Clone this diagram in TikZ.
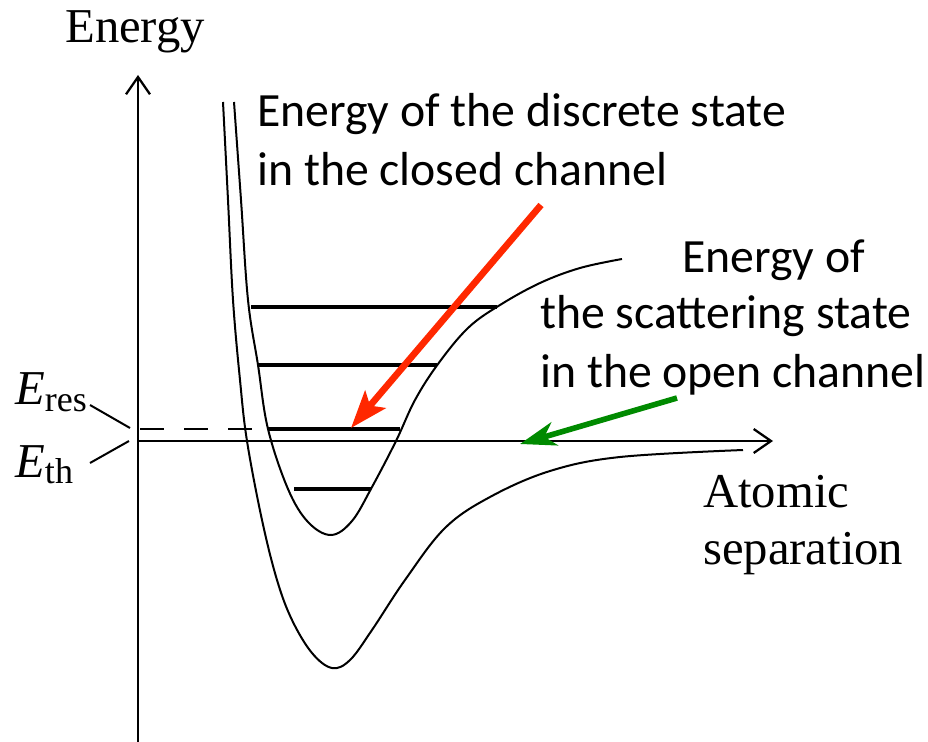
\documentclass[tikz,border=0pt]{standalone}
\usepackage{fontspec}
\setmainfont{Liberation Serif}
\newfontfamily\calib{Carlito}
\usetikzlibrary{arrows.meta}
\definecolor{myred}{RGB}{255,40,0}
\definecolor{mygreen}{RGB}{0,138,0}
\tikzset{
  axisline/.style={line width=1.7pt, -{Straight Barb[length=13pt,width=18pt]}},
  curve/.style={line width=1.5pt},
  level/.style={line width=3pt},
  serlabel/.style={anchor=base west, inner sep=0pt, font=\fontsize{36.5}{44}\selectfont},
  sanslabel/.style={anchor=base west, inner sep=0pt, font=\calib\fontsize{35.8}{43}\selectfont},
  redarrow/.style={draw=myred, line width=5pt, -{Stealth[length=28pt,width=20pt,inset=6pt]}},
  greenarrow/.style={draw=mygreen, line width=4.2pt, -{Stealth[length=27pt,width=18pt,inset=8pt]}},
}
\begin{document}
\begin{tikzpicture}[x=0.75pt,y=-0.75pt]
\useasboundingbox (0,0) rectangle (928,742);
% axes
\coordinate (origin) at (138,441);
\coordinate (ytop) at (138,75);
\coordinate (ybot) at (138,742);
\coordinate (xend) at (773,441);
\draw[axisline] (ybot) -- (ytop);
\draw[axisline] (origin) -- (xend);
% dashed resonance line
\coordinate (dashA) at (140,429);
\coordinate (dashB) at (266,429);
\draw[line width=1.8pt, dash pattern=on 18 off 15] (dashA) -- (dashB);
% open channel curve (outer)
\draw[curve] plot[smooth, tension=0.6] coordinates {(223,102) (228,200) (233,300) (240,380) (247,441) (262,520) (277,580) (292,620) (312,653) (332,668) (350,660) (372,630) (405,580) (445,528) (490,497) (550,471) (620,457) (743,450)};
% closed channel curve (inner)
\draw[curve] plot[smooth, tension=0.6] coordinates {(234,102) (241,200) (248,300) (258,365) (268,429) (288,489) (308,522) (331,535) (352,521) (372,487) (396,441) (415,400) (438,364) (468,328) (500,305) (540,283) (580,268) (622,259)};
% bound levels
\coordinate (l1a) at (251,307); \coordinate (l1b) at (497,307);
\coordinate (l2a) at (258,365); \coordinate (l2b) at (437,365);
\coordinate (l3a) at (268,429); \coordinate (l3b) at (400,429);
\coordinate (l4a) at (294,489); \coordinate (l4b) at (371,489);
\draw[level] (l1a) -- (l1b);
\draw[level] (l2a) -- (l2b);
\draw[level] (l3a) -- (l3b);
\draw[level] (l4a) -- (l4b);
% labels
\node[serlabel] (energy) at (65,43) {Energy};
\node[serlabel] (atomic) at (703,507) {Atomic};
\node[serlabel] (separation) at (703,564) {separation};
\node[serlabel] (eres) at (15,404) {\textit{E}\raisebox{-7\dimexpr0.75pt\relax}{\fontsize{27}{27}\selectfont res}};
\node[serlabel] (eth) at (15,477) {\textit{E}\raisebox{-6\dimexpr0.75pt\relax}{\fontsize{27}{27}\selectfont th}};
\coordinate (eresA) at (90,405); \coordinate (eresB) at (130,428);
\coordinate (ethA) at (90,463); \coordinate (ethB) at (129,441);
\draw[line width=1.5pt] (eresA) -- (eresB);
\draw[line width=1.5pt] (ethA) -- (ethB);
\node[sanslabel] (disc1) at (257,127) {Energy of the discrete state};
\node[sanslabel] (disc2) at (257,185) {in the closed channel};
\node[sanslabel] (scat1) at (682,272) {Energy of};
\node[sanslabel] (scat2) at (540,328) {the scattering state};
\node[sanslabel] (scat3) at (540,387) {in the open channel};
% arrows
\coordinate (redstart) at (541,205);
\coordinate (redtip) at (351,428);
\coordinate (greenstart) at (677,398);
\coordinate (greentip) at (520,444);
\draw[redarrow] (redstart) -- (redtip);
\draw[greenarrow] (greenstart) -- (greentip);
\end{tikzpicture}
\end{document}
